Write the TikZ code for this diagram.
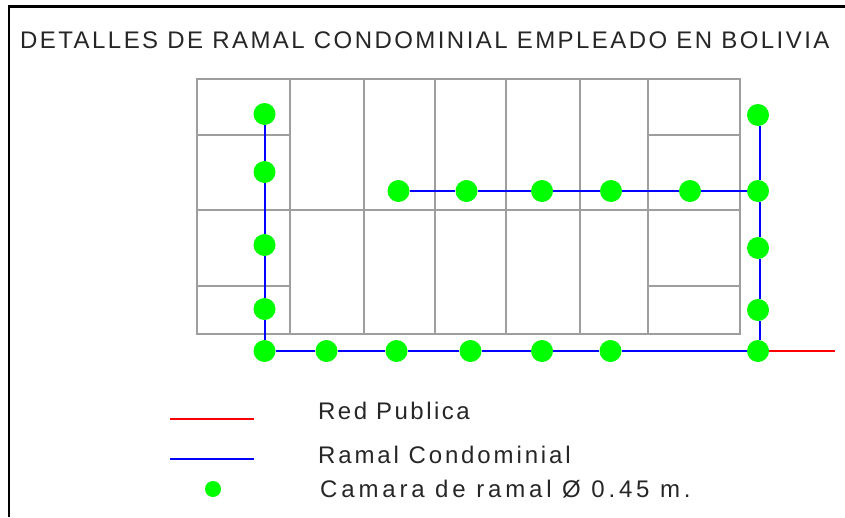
\documentclass[tikz,border=0pt]{standalone}
\usepackage{fontspec}
\setmainfont[LetterSpace=9]{Liberation Sans}
\begin{document}
\begin{tikzpicture}
	[x=1pt,y=-1pt,
	 lote/.style={draw=black!38,line width=2pt},
	 ramal/.style={draw=blue,line width=2pt},
	 red/.style={draw=red,line width=2pt},
	 camara/.style={circle,fill=green,inner sep=0pt,minimum size=22pt},
	 camarita/.style={circle,fill=green,inner sep=0pt,minimum size=16pt},
	 rotulo/.style={anchor=base west,text=black!85,inner sep=0pt,font=\fontsize{24}{24}\selectfont}]
\useasboundingbox (0,0) rectangle (845,517);
\draw[line width=2.6pt] (9,517) -- (9,6.5) -- (845,6.5);
\node[rotulo] (titulo) at (20,48) {\addfontfeature{LetterSpace=10.2}DETALLES DE RAMAL CONDOMINIAL EMPLEADO EN BOLIVIA};
% manzana
\draw[lote] (197,79) rectangle (740,334);
\draw[lote] (197,209.5) -- (740,209.5);
\foreach \x in {290,364,435,506,580,648}
\draw[lote] (\x,79) -- (\x,334);
\foreach \y in {135,285.5}
\draw[lote] (197,\y) -- (290,\y) (648,\y) -- (740,\y);
% camaras
\foreach \n/\x/\y in {i1/264.5/114,i2/264.5/172,i3/264.5/245,i4/264.5/309,i5/264.5/351,
	b1/326.5/351,b2/396.5/351,b3/470.5/351,b4/542/351,b5/610.5/351,
	d1/758/115,d2/758/191,d3/758/248,d4/758/310,d5/758/351,
	c1/398.5/191,c2/466.5/191,c3/542/191,c4/611/191,c5/690/191}
\node[camara] (\n) at (\x,\y) {};
\coordinate (finred) at (835,351);
% ramales
\draw[ramal] (i1) -- (i2) -- (i3) -- (i4) -- (i5);
\draw[ramal] (i5) -- (b1) -- (b2) -- (b3) -- (b4) -- (b5) -- (d5);
\draw[ramal] (c1) -- (c2) -- (c3) -- (c4) -- (c5) -- (d2);
\draw[ramal] ([xshift=2pt]d1.south) -- ([xshift=2pt]d2.north)
([xshift=2pt]d2.south) -- ([xshift=2pt]d3.north)
([xshift=2pt]d3.south) -- ([xshift=2pt]d4.north)
([xshift=2pt]d4.south) -- ([xshift=2pt]d5.north);
\draw[red] (d5) -- (finred);
% leyenda
\coordinate (r0) at (170,418.5);
\coordinate (r1) at (254,418.5);
\coordinate (a0) at (170,458.5);
\coordinate (a1) at (254,458.5);
\draw[red] (r0) -- (r1);
\draw[ramal] (a0) -- (a1);
\node[camarita] (muestra) at (213,489) {};
\node[rotulo] (tred) at (318,419) {\addfontfeature{LetterSpace=10.2}Red Publica};
\node[rotulo] (tramal) at (318,463) {\addfontfeature{LetterSpace=12}Ramal Condominial};
\node[rotulo] (tcamara) at (320,497) {\addfontfeature{LetterSpace=16}Camara de ramal Ø 0.45 m.};
\end{tikzpicture}
\end{document}
